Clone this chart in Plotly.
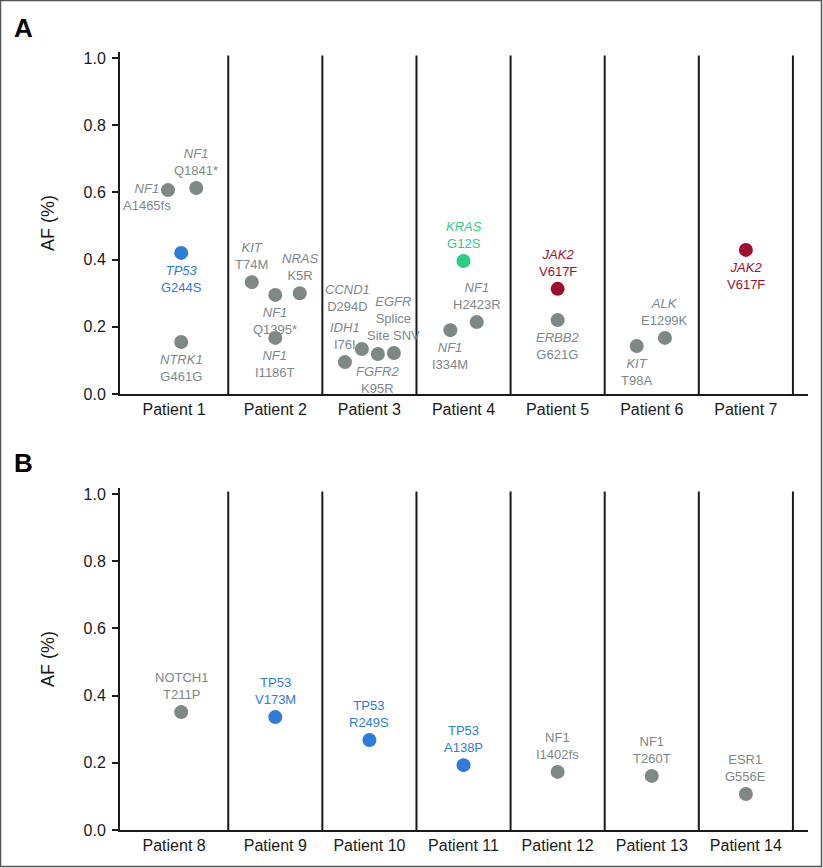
import plotly.graph_objects as go

# ---------------- data ----------------
patients_a = ["Patient 1", "Patient 2", "Patient 3", "Patient 4", "Patient 5", "Patient 6", "Patient 7"]
mut_patient_a = [1, 1, 1, 1, 2, 2, 2, 2, 3, 3, 3, 3, 4, 4, 4, 5, 5, 6, 6, 7]
mut_gene_a = ["NF1", "NF1", "TP53", "NTRK1", "KIT", "NF1", "NRAS", "NF1", "IDH1", "CCND1",
              "FGFR2", "EGFR", "KRAS", "NF1", "NF1", "JAK2", "ERBB2", "KIT", "ALK", "JAK2"]
mut_change_a = ["A1465fs", "Q1841*", "G244S", "G461G", "T74M", "Q1395*", "K5R", "I1186T", "I76I", "D294D",
                "K95R", "Splice<br>Site SNV", "G12S", "I334M", "H2423R", "V617F", "G621G", "T98A", "E1299K", "V617F"]
mut_af_a = [0.607, 0.613, 0.42, 0.155, 0.333, 0.295, 0.30, 0.167, 0.095, 0.134,
            0.119, 0.122, 0.396, 0.19, 0.214, 0.313, 0.22, 0.143, 0.167, 0.429]
# horizontal dodge of overlapping points within a patient column
dodge_a = [-0.14, 0.16, 0, 0, -0.25, 0, 0.26, 0, -0.26, -0.08,
           0.09, 0.26, 0, -0.14, 0.14, 0, 0, -0.16, 0.14, 0]
label_pos_a = ["left", "above", "below", "below", "above", "below", "above", "below", "above", "above_far",
               "below", "above", "above", "below", "above", "above", "below", "below", "above", "below"]

patients_b = ["Patient 8", "Patient 9", "Patient 10", "Patient 11", "Patient 12", "Patient 13", "Patient 14"]
mut_patient_b = [1, 2, 3, 4, 5, 6, 7]
mut_gene_b = ["NOTCH1", "TP53", "TP53", "TP53", "NF1", "NF1", "ESR1"]
mut_change_b = ["T211P", "V173M", "R249S", "A138P", "I1402fs", "T260T", "G556E"]
mut_af_b = [0.351, 0.336, 0.268, 0.193, 0.173, 0.161, 0.107]
label_pos_b = ["above"] * 7

y_ticks = [0.0, 0.2, 0.4, 0.6, 0.8, 1.0]

# ---------------- style ----------------
GRAY = "#7e8887"
gene_colors = {"TP53": "#2f7bd8", "KRAS": "#2fcd84", "JAK2": "#9d0f30"}
FONT = "Liberation Sans, Arial, Helvetica, sans-serif"
label_styles = {
    "above": dict(xanchor="center", yanchor="bottom", xshift=0, yshift=8),
    "below": dict(xanchor="center", yanchor="top", xshift=0, yshift=-8),
    "left": dict(xanchor="center", yanchor="middle", xshift=-21, yshift=-7),
    "above_far": dict(xanchor="center", yanchor="bottom", xshift=-14, yshift=33),
}

W, H = 823, 868
ML, MR, MT, MB = 120, 15, 52, 38
PW, PH = W - ML - MR, H - MT - MB
X_RANGE = [0.35, 7.66]
Y_RANGE = [0, 1.018]


def px_x(px):
    return (px - ML) / PW


def px_y(py):
    return (H - MB - py) / PH


fig = go.Figure()
annotations = []
shapes = []

panels = [
    ("x", "y", patients_a, mut_patient_a, mut_gene_a, mut_change_a, mut_af_a, dodge_a, label_pos_a, True),
    ("x2", "y2", patients_b, mut_patient_b, mut_gene_b, mut_change_b, mut_af_b, [0] * 7, label_pos_b, False),
]

for xr, yr, pats, mp, genes, changes, afs, dodge, lpos, italic in panels:
    xs = [p + d for p, d in zip(mp, dodge)]
    cols = [gene_colors.get(g, GRAY) for g in genes]
    fig.add_trace(go.Scatter(
        x=xs, y=afs, mode="markers", xaxis=xr, yaxis=yr,
        marker=dict(size=14, color=cols, line=dict(width=0)),
        hoverinfo="skip", showlegend=False,
    ))
    for x, y, g, c, col, pos in zip(xs, afs, genes, changes, cols, lpos):
        gtxt = f"<i>{g}</i>" if italic else g
        annotations.append(dict(
            x=x, y=y, xref=xr, yref=yr, text=f"{gtxt}<br>{c}", showarrow=False,
            font=dict(family=FONT, size=13, color=col), align="center",
            **label_styles[pos],
        ))
    # column separators
    for i in range(1, len(pats) + 1):
        shapes.append(dict(type="line", xref=xr, yref=f"{yr} domain", x0=i + 0.5, x1=i + 0.5,
                           y0=0, y1=0.99, line=dict(color="#1a1a1a", width=2)))

tick_pos = [(X_RANGE[0] + 1.5) / 2] + list(range(2, 8))

axis_common_x = dict(range=X_RANGE, showline=True, linecolor="#1a1a1a", linewidth=2,
                     ticks="", showgrid=False, zeroline=False, tickvals=tick_pos,
                     tickfont=dict(family=FONT, size=16, color="#1a1a1a"), ticklabelstandoff=0)
axis_common_y = dict(range=Y_RANGE, showline=True, linecolor="#1a1a1a", linewidth=2,
                     ticks="outside", ticklen=6, tickwidth=1.5, tickcolor="#1a1a1a",
                     tickvals=y_ticks, tickformat=".1f", showgrid=False, zeroline=False,
                     tickfont=dict(family=FONT, size=16, color="#1a1a1a"), ticklabelstandoff=3,
                     title=dict(text="AF (%)", font=dict(family=FONT, size=18, color="#1a1a1a"), standoff=24))

fig.update_layout(
    width=W, height=H,
    margin=dict(l=ML, r=MR, t=MT, b=MB),
    paper_bgcolor="white", plot_bgcolor="white",
    xaxis=dict(domain=[0, 1], anchor="y", ticktext=patients_a, **axis_common_x),
    yaxis=dict(domain=[px_y(394), 1], anchor="x", **axis_common_y),
    xaxis2=dict(domain=[0, 1], anchor="y2", ticktext=patients_b, **axis_common_x),
    yaxis2=dict(domain=[0, px_y(488)], anchor="x2", **axis_common_y),
    showlegend=False,
)

# panel letters
for letter, py in [("A", 28), ("B", 463)]:
    annotations.append(dict(x=px_x(23), y=px_y(py), xref="paper", yref="paper", text=f"<b>{letter}</b>",
                            showarrow=False, xanchor="center", yanchor="middle",
                            font=dict(family=FONT, size=26, color="black")))

# outer frame
shapes.append(dict(type="rect", xref="paper", yref="paper", x0=px_x(0.5), x1=px_x(W - 1.5),
                   y0=px_y(H - 1.5), y1=px_y(0.5), line=dict(color="#555555", width=1.5)))

fig.update_layout(annotations=annotations, shapes=shapes)
fig.write_html("out.html", config={"displayModeBar": False},
               post_script="document.body.style.margin='0';document.body.style.overflow='hidden';")
